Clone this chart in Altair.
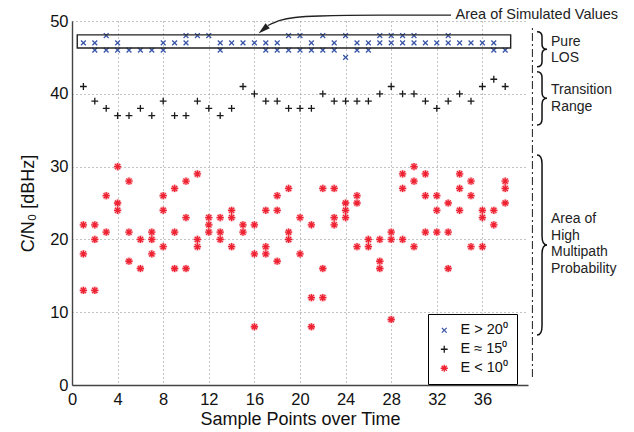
import altair as alt
import pandas as pd

# ---------------- data ----------------
samples = list(range(1, 39))
blue_vals = [[47], [47, 46], [48, 46], [47, 46], [46], [46], [46], [47, 46], [47], [48, 47],
             [48], [48], [47, 46], [47], [47], [47], [47, 46], [47, 46], [48, 46], [48, 46],
             [47, 46], [48, 46], [47, 46], [48, 45], [47, 46], [47, 46], [48, 47], [48, 47],
             [48, 47], [48, 47], [47], [47], [48, 47], [47], [47], [47], [47, 46], [46]]
black_vals = [41, 39, 38, 37, 37, 38, 37, 39, 37, 37, 39, 38, 37, 38, 41, 40, 39, 39, 38, 38,
              38, 40, 39, 39, 39, 39, 40, 41, 40, 40, 39, 38, 39, 40, 39, 41, 42, 41]
red_vals = [[22, 18, 13], [22, 20, 13], [26, 21], [30, 25, 24], [28, 21, 17], [20, 16],
            [21, 20, 18], [26, 24, 19], [27, 21, 16], [28, 23, 16], [29, 20, 19], [23, 22, 21],
            [23, 21, 20], [24, 23, 19], [22, 21], [22, 18, 8], [24, 19, 18], [26, 24, 17],
            [27, 21, 20], [23, 18], [22, 12, 8], [27, 16, 12], [27, 23, 22], [25, 24, 23],
            [26, 25, 19], [20, 19], [20, 17, 16], [21, 20, 9], [29, 27, 20], [30, 28, 19],
            [29, 26, 21], [26, 24, 21], [25, 21, 16], [29, 27, 24], [28, 26, 19], [24, 23, 19],
            [24, 22], [28, 27, 25]]

series_labels = ["E > 20\u2070", "E \u2248 15\u2070", "E < 10\u2070"]
series_colors = ["#3a56a8", "#1a1a1a", "#ee2233"]

x_ticks = list(range(0, 37, 4))
y_ticks = list(range(0, 51, 10))

# annotation content (positions in data units)
box_x = [0.46, 38.48]
box_y = [46.3, 48.1]
arrow_x = [33.25, 27.02, 21.75, 19.56, 18.25, 17.19]
arrow_y = [50.82, 50.80, 50.69, 50.48, 50.07, 49.38]
arrow_tip = [16.36, 48.28]
area_label = ["Area of Simulated Values", 33.64, 50.89]
side_texts = ["Pure", "LOS", "Transition", "Range", "Area of", "High", "Multipath", "Probability"]
side_text_y = [47.16, 44.88, 40.52, 38.15, 22.76, 20.51, 18.23, 15.93]
side_text_x = 42.02
divider_x = 40.39
divider_y = [1.1, 49.04]
brace_x = 41.23
brace_y = [46.11, 39.38, 19.23]
brace_h = [35, 53.3, 180]
brace_curl = [5, 6, 9]

# ---------------- frames ----------------
rows = []
for s, vals in zip(samples, blue_vals):
    for v in vals:
        rows.append({"sample": s, "cn0": v, "series": series_labels[0]})
for s, v in zip(samples, black_vals):
    rows.append({"sample": s, "cn0": v, "series": series_labels[1]})
for s, vals in zip(samples, red_vals):
    for v in vals:
        rows.append({"sample": s, "cn0": v, "series": series_labels[2]})
df = pd.DataFrame(rows)
df_red = df[df["series"] == series_labels[2]]

FONT = "Liberation Sans"
xs = alt.Scale(domain=[0, 40], nice=False, zero=False)
ys = alt.Scale(domain=[0, 50], nice=False, zero=False)
xaxis = alt.Axis(values=x_ticks, title="Sample Points over Time", labelFontSize=16.5,
                 titleFontSize=18, labelFont=FONT, titleFont=FONT, titleFontWeight="normal",
                 ticks=False, labelPadding=6, titlePadding=3, grid=True, gridDash=[1, 3],
                 gridColor="#888888", gridWidth=1, domainColor="#444444", domainWidth=1.4,
                 labelColor="#111111", titleColor="#111111", labelFlush=False)
yaxis = alt.Axis(values=y_ticks, title="C/N\u2080 [dBHz]", labelFontSize=16.5,
                 titleFontSize=18, labelFont=FONT, titleFont=FONT, titleFontWeight="normal",
                 ticks=False, labelPadding=4, titlePadding=12, grid=True, gridDash=[1, 3],
                 gridColor="#888888", gridWidth=1, domainColor="#444444", domainWidth=1.4,
                 labelColor="#111111", titleColor="#111111", labelFlush=False)


def X(field="sample"):
    return alt.X(f"{field}:Q", scale=xs, axis=xaxis)


def Y(field="cn0"):
    return alt.Y(f"{field}:Q", scale=ys, axis=yaxis)


X_PATH = "M-0.6,-0.6L0.6,0.6M-0.6,0.6L0.6,-0.6"
PLUS_PATH = "M-0.85,0L0.85,0M0,-0.85L0,0.85"
STAR_PATH = "M-0.9,0L0.9,0M0,-0.9L0,0.9M-0.64,-0.64L0.64,0.64M-0.64,0.64L0.64,-0.64"
ARROW_PATH = "M0,0L0.55,2L-0.55,2Z"

legend = alt.Legend(title=None, orient="none", legendX=356, legendY=293, padding=9,
                    strokeColor="black", fillColor="white", symbolSize=64,
                    symbolStrokeWidth=1.3, labelFontSize=14.5, labelFont=FONT,
                    labelColor="#111111", labelOffset=9, rowPadding=4, cornerRadius=0,
                    labelExpr="datum.label + '\u00a0\u00a0\u00a0\u00a0'")

halo = alt.Chart(df_red).mark_circle(size=60, color="#f25560", opacity=0.35).encode(
    x=X(), y=Y())

points = alt.Chart(df).mark_point(filled=False, strokeWidth=1.3, opacity=1, size=64).encode(
    x=X(), y=Y(),
    color=alt.Color("series:N", scale=alt.Scale(domain=series_labels, range=series_colors),
                    legend=legend),
    shape=alt.Shape("series:N", scale=alt.Scale(domain=series_labels,
                                                range=[X_PATH, PLUS_PATH, STAR_PATH]),
                    legend=legend),
)

box_df = pd.DataFrame({"sample": [box_x[0]], "sample2": [box_x[1]],
                       "cn0": [box_y[0]], "cn02": [box_y[1]]})
box = alt.Chart(box_df).mark_rect(fillOpacity=0, stroke="#222222", strokeWidth=1.4).encode(
    x=X(), x2="sample2:Q", y=Y(), y2="cn02:Q")

arrow_df = pd.DataFrame({"sample": arrow_x, "cn0": arrow_y})
arrow_line = alt.Chart(arrow_df).mark_line(interpolate="monotone", color="#222222",
                                           strokeWidth=1.3).encode(x=X(), y=Y())
tip_df = pd.DataFrame({"sample": [arrow_tip[0]], "cn0": [arrow_tip[1]]})
arrow_head = alt.Chart(tip_df).mark_point(shape=ARROW_PATH, size=144, angle=230, filled=True,
                                          color="#222222", opacity=1).encode(x=X(), y=Y())

lab_df = pd.DataFrame({"sample": [area_label[1]], "cn0": [area_label[2]], "t": [area_label[0]]})
area_text = alt.Chart(lab_df).mark_text(align="left", baseline="middle", fontSize=14.5,
                                        font=FONT, color="#222222").encode(
    x=X(), y=Y(), text="t:N")

side_df = pd.DataFrame({"sample": [side_text_x] * len(side_texts), "cn0": side_text_y,
                        "t": side_texts})
side_text = alt.Chart(side_df).mark_text(align="left", baseline="middle", fontSize=14,
                                         font=FONT, color="#222222").encode(
    x=X(), y=Y(), text="t:N")

div_df = pd.DataFrame({"sample": [divider_x], "cn0": [divider_y[0]], "cn02": [divider_y[1]]})
divider = alt.Chart(div_df).mark_rule(strokeDash=[8, 3, 2, 3], color="#333333",
                                      strokeWidth=1.1).encode(x=X(), y=Y(), y2="cn02:Q")


def brace_path(h, curl, w=5.0):
    s = h / 2.0
    ww = w / s
    cc = curl / s
    return (f"M{-ww:.4f},-1Q0,-1 0,{-1 + cc:.4f}L0,{-cc:.4f}Q0,0 {ww:.4f},0"
            f"Q0,0 0,{cc:.4f}L0,{1 - cc:.4f}Q0,1 {-ww:.4f},1")


braces = []
for by, bh, bc in zip(brace_y, brace_h, brace_curl):
    bdf = pd.DataFrame({"sample": [brace_x], "cn0": [by]})
    braces.append(alt.Chart(bdf).mark_point(shape=brace_path(bh, bc), size=bh * bh,
                                            filled=False, color="#111111", strokeWidth=1.5,
                                            opacity=1).encode(x=X(), y=Y()))

chart = alt.layer(halo, points, box, arrow_line, arrow_head, area_text, divider,
                  *braces, side_text).properties(
    width=456, height=364,
    autosize=alt.AutoSizeParams(type="none"),
    padding={"left": 72, "top": 21, "right": 106, "bottom": 47},
    background="white",
).configure_view(stroke=None)

chart.save("out.html", embed_options={"renderer": "svg", "actions": False})
